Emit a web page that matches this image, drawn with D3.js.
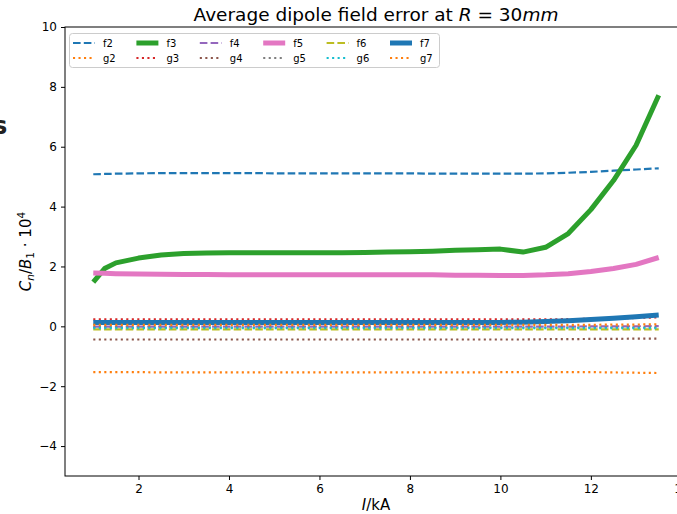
<!DOCTYPE html>
<html>
<head>
<meta charset="utf-8">
<script src="https://cdn.jsdelivr.net/npm/d3@7"></script>
<style>
body { margin: 0; background: #fff; }
svg { font-family: "DejaVu Sans", sans-serif; }
</style>
</head>
<body>
<div id="main"></div>
<script>
// current in kA
var current = [1, 1.25, 1.5, 2, 2.5, 3, 3.5, 4, 4.5, 5, 5.5, 6, 6.5, 7, 7.5, 8, 8.5, 9, 9.5, 10, 10.5, 11, 11.5, 12, 12.5, 13, 13.5];

var f2 = [5.08, 5.09, 5.10, 5.11, 5.12, 5.12, 5.12, 5.12, 5.12, 5.11, 5.11, 5.11, 5.11, 5.11, 5.11, 5.11, 5.10, 5.10, 5.10, 5.10, 5.10, 5.11, 5.13, 5.16, 5.20, 5.24, 5.28];
var g2 = [-1.53, -1.53, -1.53, -1.53, -1.54, -1.54, -1.54, -1.54, -1.54, -1.54, -1.54, -1.54, -1.54, -1.54, -1.54, -1.54, -1.54, -1.54, -1.54, -1.53, -1.53, -1.53, -1.53, -1.53, -1.54, -1.55, -1.56];
var f3 = [1.48, 1.93, 2.12, 2.28, 2.38, 2.43, 2.45, 2.46, 2.46, 2.46, 2.46, 2.46, 2.46, 2.47, 2.48, 2.49, 2.51, 2.54, 2.56, 2.58, 2.48, 2.64, 3.10, 3.90, 4.87, 6.05, 7.72];
var g3 = [0.23, 0.23, 0.23, 0.23, 0.23, 0.23, 0.23, 0.23, 0.23, 0.23, 0.23, 0.23, 0.23, 0.23, 0.23, 0.23, 0.23, 0.23, 0.23, 0.23, 0.23, 0.23, 0.24, 0.25, 0.26, 0.28, 0.30];
var f4 = [-0.01, -0.01, -0.01, -0.01, -0.01, -0.01, -0.01, -0.01, -0.01, -0.01, -0.01, -0.01, -0.01, -0.01, -0.01, -0.01, -0.01, -0.01, -0.01, -0.01, -0.01, -0.01, -0.01, 0.0, 0.0, 0.0, 0.01];
var g4 = [-0.44, -0.44, -0.44, -0.44, -0.44, -0.44, -0.44, -0.44, -0.44, -0.44, -0.44, -0.44, -0.44, -0.44, -0.44, -0.44, -0.44, -0.44, -0.44, -0.44, -0.44, -0.43, -0.43, -0.42, -0.42, -0.41, -0.41];
var f5 = [1.78, 1.77, 1.76, 1.75, 1.74, 1.73, 1.73, 1.72, 1.72, 1.72, 1.72, 1.72, 1.72, 1.72, 1.72, 1.72, 1.72, 1.71, 1.71, 1.70, 1.70, 1.72, 1.76, 1.83, 1.93, 2.07, 2.30];
var g5 = [-0.03, -0.03, -0.03, -0.03, -0.03, -0.03, -0.03, -0.03, -0.03, -0.03, -0.03, -0.03, -0.03, -0.03, -0.03, -0.03, -0.03, -0.03, -0.03, -0.03, -0.03, -0.03, -0.03, -0.03, -0.03, -0.03, -0.03];
var f6 = [-0.10, -0.10, -0.10, -0.10, -0.10, -0.10, -0.10, -0.10, -0.10, -0.10, -0.10, -0.10, -0.10, -0.10, -0.10, -0.10, -0.10, -0.10, -0.10, -0.10, -0.10, -0.10, -0.10, -0.10, -0.10, -0.10, -0.10];
var g6 = [-0.06, -0.06, -0.06, -0.06, -0.06, -0.06, -0.06, -0.06, -0.06, -0.06, -0.06, -0.06, -0.06, -0.06, -0.06, -0.06, -0.06, -0.06, -0.06, -0.06, -0.06, -0.06, -0.06, -0.06, -0.06, -0.06, -0.06];
var f7 = [0.13, 0.13, 0.13, 0.13, 0.13, 0.13, 0.13, 0.13, 0.13, 0.13, 0.13, 0.13, 0.13, 0.13, 0.13, 0.13, 0.13, 0.13, 0.13, 0.13, 0.14, 0.16, 0.19, 0.23, 0.27, 0.32, 0.38];
var g7 = [0.05, 0.05, 0.05, 0.05, 0.05, 0.05, 0.05, 0.05, 0.05, 0.05, 0.05, 0.05, 0.05, 0.05, 0.05, 0.05, 0.05, 0.05, 0.05, 0.05, 0.05, 0.05, 0.05, 0.05, 0.06, 0.06, 0.07];

var names = ["f2", "g2", "f3", "g3", "f4", "g4", "f5", "g5", "f6", "g6", "f7", "g7"];
var values = [f2, g2, f3, g3, f4, g4, f5, g5, f6, g6, f7, g7];
var colors = ["#1f77b4", "#ff7f0e", "#2ca02c", "#d62728", "#9467bd", "#8c564b", "#e377c2", "#7f7f7f", "#bcbd22", "#17becf", "#1f77b4", "#ff7f0e"];
var xTicks = [2, 4, 6, 8, 10, 12, 14];
var yTicks = [-4, -2, 0, 2, 4, 6, 8, 10];

var svg = d3.select("#main").append("svg")
	.attr("width", 677)
	.attr("height", 514);

var mLeft = 65, mRight = 687, mTop = 27, mBottom = 476;

var x = d3.scaleLinear().domain([0.375, 14.125]).range([mLeft, mRight]);
var y = d3.scaleLinear().domain([-5, 10]).range([mBottom, mTop]);

// style for each series: thick solid for f3, f5, f7, dashed for the other f, dotted for g
function styleOf(name) {
	if (name == "f3" || name == "f5" || name == "f7") return { w: 5, dash: null };
	if (name[0] == "f") return { w: 2.2, dash: "7.6,3.2" };
	return { w: 2.2, dash: "2.1,3.4" };
}

var line = d3.line()
	.x(function(d) { return x(d[0]); })
	.y(function(d) { return y(d[1]); });

svg.append("clipPath").attr("id", "clip")
	.append("rect").attr("x", mLeft).attr("y", mTop).attr("width", mRight - mLeft).attr("height", mBottom - mTop);

var plot = svg.append("g").attr("clip-path", "url(#clip)");

names.forEach(function(n, i) {
	var s = styleOf(n);
	var pts = current.map(function(c, j) { return [c, values[i][j]]; });
	plot.append("path")
		.attr("d", line(pts))
		.attr("fill", "none")
		.attr("stroke", colors[i])
		.attr("stroke-width", s.w)
		.attr("stroke-dasharray", s.dash)
		.attr("stroke-linejoin", "round");
});

// axes
var xAxis = d3.axisBottom(x).tickValues(xTicks).tickSize(4).tickPadding(4).tickFormat(d3.format("d"));
var yAxis = d3.axisLeft(y).tickValues(yTicks).tickSize(4).tickPadding(4).tickFormat(function(d) { return d < 0 ? "\u2212" + (-d) : d; });

var gx = svg.append("g").attr("transform", "translate(0," + mBottom + ")").call(xAxis);
var gy = svg.append("g").attr("transform", "translate(" + mLeft + ",0)").call(yAxis);
[gx, gy].forEach(function(g) {
	g.select(".domain").remove();
	g.selectAll("text").attr("font-size", 12).attr("fill", "#000").attr("font-family", "DejaVu Sans");
	g.selectAll("line").attr("stroke", "#000");
});

svg.append("rect")
	.attr("x", mLeft).attr("y", mTop)
	.attr("width", mRight - mLeft).attr("height", mBottom - mTop)
	.attr("fill", "none").attr("stroke", "#000").attr("stroke-width", 1);

// title
var title = svg.append("text")
	.attr("x", (mLeft + mRight) / 2).attr("y", 21)
	.attr("text-anchor", "middle")
	.attr("font-size", 18.5);
title.append("tspan").text("Average dipole field error at ");
title.append("tspan").attr("font-style", "italic").text("R");
title.append("tspan").text(" = 30");
title.append("tspan").attr("font-style", "italic").text("mm");

// x label
var xl = svg.append("text")
	.attr("x", (mLeft + mRight) / 2).attr("y", 510)
	.attr("text-anchor", "middle")
	.attr("font-size", 15);
xl.append("tspan").attr("font-style", "italic").text("I");
xl.append("tspan").text("/kA");

// y label
var yl = svg.append("text")
	.attr("transform", "translate(31," + ((mTop + mBottom) / 2) + ") rotate(-90)")
	.attr("text-anchor", "middle")
	.attr("font-size", 15);
yl.append("tspan").attr("font-style", "italic").text("C");
yl.append("tspan").attr("font-style", "italic").attr("font-size", 10.5).attr("dy", 3).text("n");
yl.append("tspan").attr("dy", -3).text("/");
yl.append("tspan").attr("font-style", "italic").text("B");
yl.append("tspan").attr("font-size", 10.5).attr("dy", 3).text("1");
yl.append("tspan").attr("dy", -3).text(" \u00b7 10");
yl.append("tspan").attr("font-size", 10.5).attr("dy", -6).text("4");

// clipped text fragment at the left edge
svg.append("text")
	.attr("x", -7).attr("y", 134)
	.attr("font-size", 24).attr("font-weight", "bold").attr("fill", "#222")
	.text("s");

// legend
var legend = svg.append("g");
legend.append("rect")
	.attr("x", 69.5).attr("y", 33.5).attr("width", 370).attr("height", 34).attr("rx", 3)
	.attr("fill", "#fff").attr("fill-opacity", 0.8).attr("stroke", "#ccc");

names.forEach(function(n, i) {
	var col = Math.floor(i / 2), row = i % 2;
	var lx = 73 + col * 63.4, ly = 43 + row * 15;
	var s = styleOf(n);
	legend.append("line")
		.attr("x1", lx).attr("x2", lx + 22).attr("y1", ly).attr("y2", ly)
		.attr("stroke", colors[i]).attr("stroke-width", s.w)
		.attr("stroke-dasharray", s.dash);
	legend.append("text")
		.attr("x", lx + 30).attr("y", ly + 3.5)
		.attr("font-size", 10)
		.text(n);
});
</script>
</body>
</html>
